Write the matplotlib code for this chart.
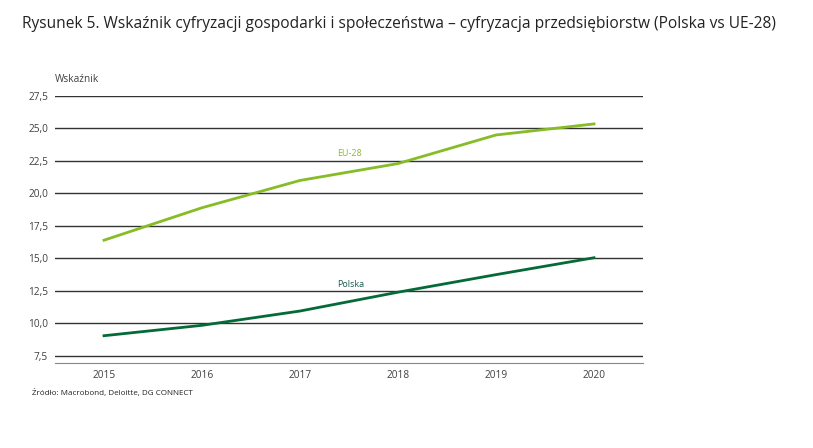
import matplotlib.pyplot as plt

plt.rcParams['font.family'] = ['Open Sans', 'DejaVu Sans']

years = [2015, 2016, 2017, 2018, 2019, 2020]
eu28 = [16.4, 18.9, 21.0, 22.3, 24.5, 25.35]
polska = [9.05, 9.85, 10.95, 12.4, 13.75, 15.05]
yticks = [7.5, 10.0, 12.5, 15.0, 17.5, 20.0, 22.5, 25.0, 27.5]
ytick_labels = ['7,5', '10,0', '12,5', '15,0', '17,5', '20,0', '22,5', '25,0', '27,5']

fig = plt.figure(figsize=(8.13, 4.48), dpi=100)
ax = fig.add_axes([55 / 813, 1 - 363 / 448, 588 / 813, 267 / 448])

for t in yticks:
    ax.axhline(t, color='#333333', lw=1.0, zorder=1)
ax.plot(years, eu28, color='#86BC25', lw=2.0, zorder=3)
ax.plot(years, polska, color='#046A38', lw=2.0, zorder=3)

ax.text(2017.5, 22.75, 'EU-28', color='#86BC25', fontsize=6.5, ha='center', va='bottom')
ax.text(2017.52, 12.65, 'Polska', color='#1a5a50', fontsize=6.5, ha='center', va='bottom')

ax.set_xlim(2014.5, 2020.5)
ax.set_ylim(6.95, 27.5)
ax.set_xticks(years)
ax.set_yticks(yticks)
ax.set_yticklabels(ytick_labels)
ax.tick_params(length=0, labelsize=7.3, colors='#404040', pad=5)
for s in ['top', 'right', 'left']:
    ax.spines[s].set_visible(False)
ax.spines['bottom'].set_color('#888888')

fig.text(55 / 813, 1 - 79 / 448, 'Wskaźnik', fontsize=7.3, color='#404040', ha='left', va='center')
fig.text(22 / 813, 1 - 24 / 448, 'Rysunek 5. Wskaźnik cyfryzacji gospodarki i społeczeństwa – cyfryzacja przedsiębiorstw (Polska vs UE-28)',
         fontsize=11.2, color='#222222', ha='left', va='center')
fig.text(32 / 813, 1 - 393 / 448, 'Źródło: Macrobond, Deloitte, DG CONNECT', fontsize=5.8, color='#222222', ha='left', va='center')

fig.savefig('out.png', dpi=100)
